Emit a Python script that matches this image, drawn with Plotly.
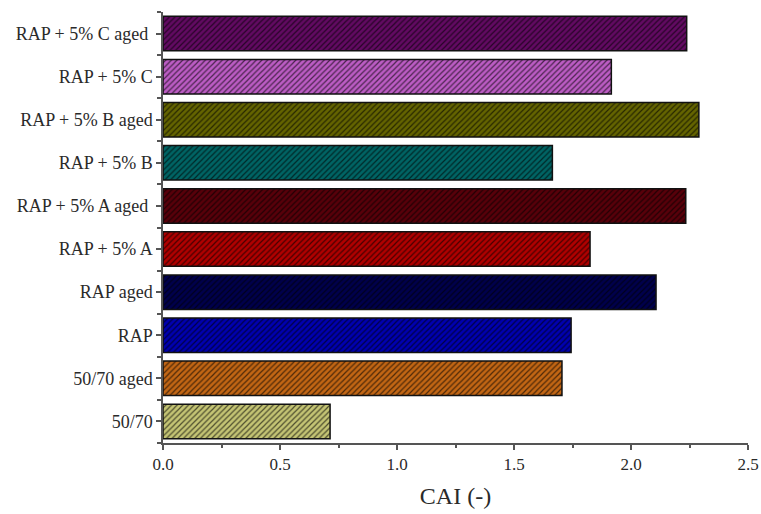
import plotly.graph_objects as go

categories = ["50/70", "50/70 aged", "RAP", "RAP aged", "RAP + 5% A",
              "RAP + 5% A aged\u00a0", "RAP + 5% B", "RAP + 5% B aged",
              "RAP + 5% C", "RAP + 5% C aged\u00a0"]
cai_values = [0.714, 1.705, 1.744, 2.107, 1.825, 2.234, 1.664, 2.29, 1.916, 2.238]
bar_colors = ["#c4c474", "#c26614", "#0000b0", "#00004c", "#b00000",
              "#58000a", "#006464", "#646400", "#bc5cc4", "#620a62"]
x_ticks = [0.0, 0.5, 1.0, 1.5, 2.0, 2.5]

positions = list(range(len(categories)))

fig = go.Figure()
for pos, val, col in zip(positions, cai_values, bar_colors):
    fig.add_trace(go.Bar(
        x=[val],
        y=[pos],
        orientation="h",
        width=0.8,
        marker=dict(
            color=col,
            line=dict(color="#111111", width=1.5),
            pattern=dict(shape="/", bgcolor=col, fgcolor="#000000",
                         fgopacity=0.6, size=4, solidity=0.3, fillmode="replace"),
        ),
        showlegend=False,
    ))

axis_font = dict(family="Liberation Serif", size=17, color="#2a2a2a")
fig.update_layout(
    width=761, height=514,
    margin=dict(l=163, r=13, t=12, b=71),
    paper_bgcolor="white", plot_bgcolor="white",
    barmode="overlay",
    xaxis=dict(
        range=[0, 2.5], tickvals=x_ticks,
        ticktext=[f"{v:.1f}" for v in x_ticks],
        showgrid=False, zeroline=False, automargin=False,
        showline=True, linecolor="#555555", linewidth=1.5,
        ticks="outside", ticklen=5, tickwidth=1.5, tickcolor="#555555",
        minor=dict(dtick=0.25, tick0=0, ticks="outside", ticklen=3,
                   tickwidth=1.5, tickcolor="#555555", showgrid=False),
        tickfont=axis_font,
        title=dict(text="CAI (-)", font=dict(family="Liberation Serif", size=24, color="#2a2a2a"),
                   standoff=14),
    ),
    yaxis=dict(
        range=[-0.5, 9.5], tickvals=positions, ticktext=categories,
        showgrid=False, zeroline=False, automargin=False,
        showline=True, linecolor="#555555", linewidth=1.5,
        ticks="outside", ticklen=5, tickwidth=1.5, tickcolor="#555555",
        minor=dict(dtick=1, tick0=-0.5, ticks="outside", ticklen=4,
                   tickwidth=1.5, tickcolor="#555555", showgrid=False),
        tickfont=dict(family="Liberation Serif", size=18, color="#2a2a2a"),
    ),
)

fig.write_html("out.html", config={"displayModeBar": False},
               post_script="document.body.style.margin='0px';")
